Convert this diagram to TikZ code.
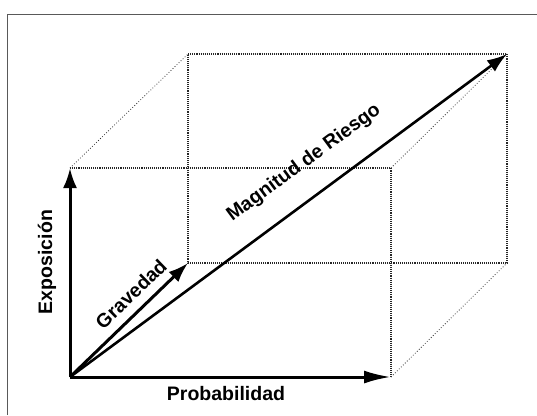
\documentclass[tikz,border=0pt]{standalone}
\usepackage{fontspec}
\setmainfont{Liberation Sans}
\usetikzlibrary{arrows.meta}
\begin{document}
\begin{tikzpicture}[x=1pt,y=-1pt,
  edge/.style={densely dotted,line width=1.1pt,black!85},
  depth/.style={dotted,line width=0.8pt,black!80},
  vec/.style={line width=3pt,-{Latex[length=20pt,width=14pt]}},
  lbl/.style={font=\fontsize{19.5}{22}\selectfont\bfseries,inner sep=1pt}]
\useasboundingbox (0,0) rectangle (537,415);
\draw[line width=1pt,black!65] (7.5,415) -- (7.5,14) -- (537,14);
% front face
\coordinate (O) at (70,377);
\coordinate (P) at (391,377);
\coordinate (E) at (70,168);
\coordinate (F) at (391,168);
% back face
\coordinate (G) at (188,263);
\coordinate (BR) at (507,263);
\coordinate (BL) at (188,54);
\coordinate (T) at (507,54);
% dotted cube edges
\draw[edge] (E) -- (F) -- (P);
\draw[edge] (BL) -- (T) -- (BR) -- (G) -- (BL);
\draw[depth] (E) -- (BL);
\draw[depth] (F) -- (T);
\draw[depth] (P) -- (BR);
% vectors
\draw[vec,-{Latex[length=27pt,width=13pt]}] (O) -- (P);
\draw[vec] (O) -- (E);
\draw[vec] (O) -- (G);
\draw[vec,line width=2.6pt] (O) -- (T);
% labels
\node[lbl] (lp) at (226,394) {Probabilidad};
\node[lbl,rotate=90] (le) at (47,262) {Exposición};
\node[lbl,rotate=44] (lg) at (131,294) {Gravedad};
\node[lbl,rotate=36.4] (lm) at (304,163) {Magnitud de Riesgo};
\end{tikzpicture}
\end{document}
